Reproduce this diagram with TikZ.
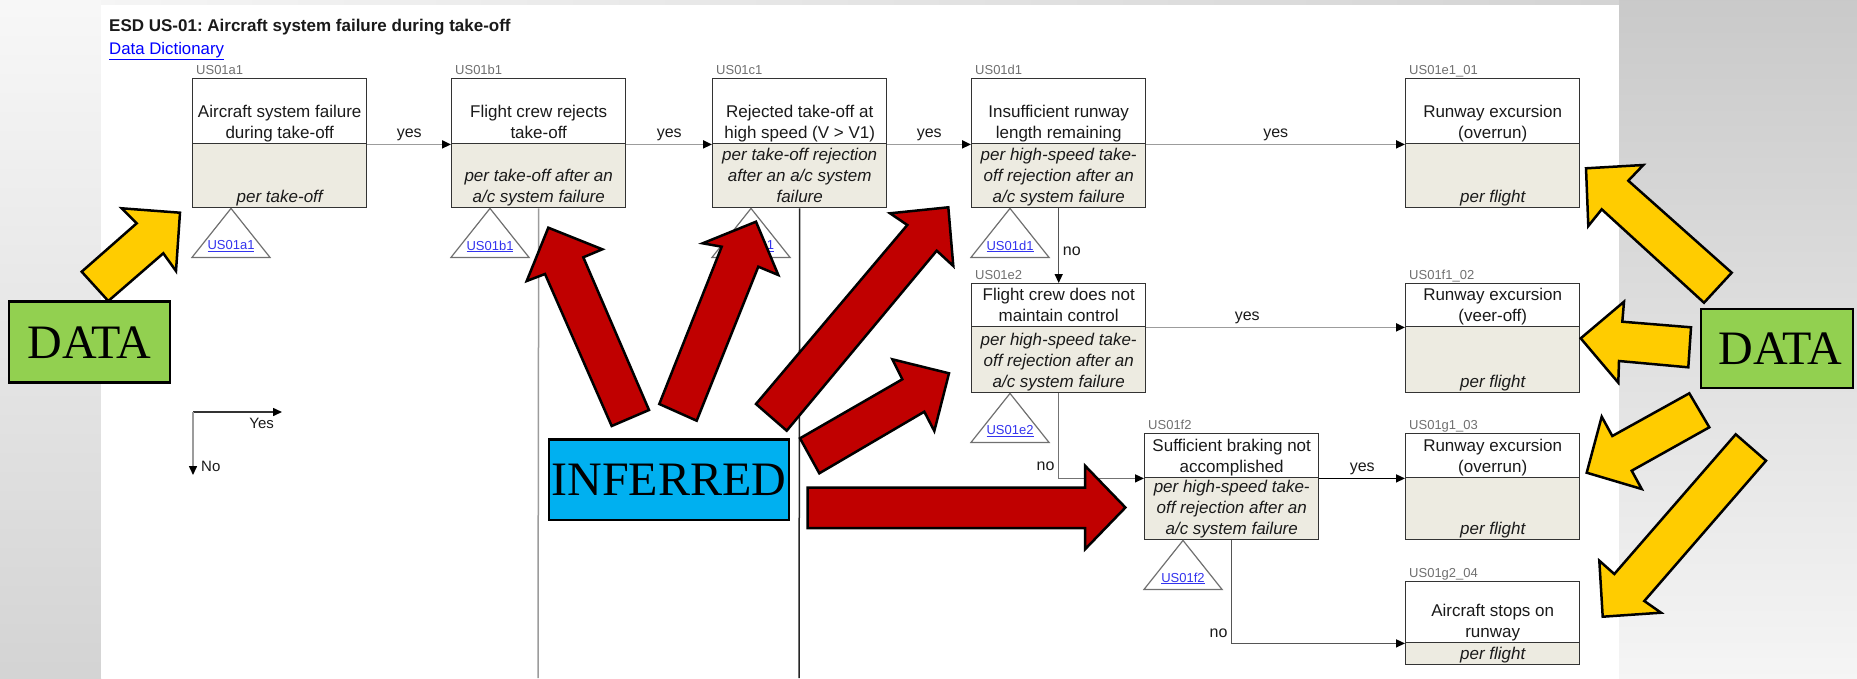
\documentclass[tikz,border=0pt]{standalone}
\usepackage{fontspec}
\setmainfont{Liberation Sans}
\newfontfamily\tnr{Liberation Serif}
\usetikzlibrary{arrows.meta,calc}
\definecolor{beige}{HTML}{EDEBE1}
\definecolor{boxline}{HTML}{333333}
\definecolor{txt}{HTML}{1A1A1A}
\definecolor{idgrey}{HTML}{707070}
\definecolor{trigrey}{HTML}{707070}
\definecolor{linkblue}{HTML}{3333EE}
\definecolor{conngrey}{HTML}{9C9C9C}
\definecolor{conndark}{HTML}{555555}
\definecolor{arrred}{HTML}{C00000}
\definecolor{arryel}{HTML}{FFCC00}
\definecolor{datagreen}{HTML}{92D050}
\definecolor{infcyan}{HTML}{00B0F0}
\frenchspacing
\newcommand\ESDbox[8]{%
  \node[topbox, minimum height={#4-#3}] (#1top) at (#2,#3) {};
  \node[botbox, minimum height={#5-#4}] (#1bot) at (#2,#4) {};
  \node[idlabel] (#1id) at ($(#1top.north west)+(4,-4)$) {#6};
  \node[uptext] (#1ut) at (#1top.south) {#7};
  \node[lowtext] (#1lt) at (#1bot.south) {#8};
}
\newcommand\ESDtri[2]{%
  \draw[tri] ($(#1bot.south west)+(39,0)$) -- ++(39,49) -- ++(-78,0) -- cycle;
  \node[trilabel] (#1tl) at ($(#1bot.south west)+(39,38)$) {\underline{#2}};
}
\begin{document}
\begin{tikzpicture}[x=1pt,y=-1pt,
  boxpart/.style={draw=boxline, line width=1.4pt, minimum width=174pt, inner sep=0pt, anchor=north west},
  topbox/.style={boxpart, fill=white},
  botbox/.style={boxpart, fill=beige},
  uptext/.style={font=\fontsize{17}{21}\selectfont, align=center, text depth=5pt, inner xsep=0pt, inner ysep=1pt, anchor=south, text=txt},
  lowtext/.style={uptext, font=\fontsize{17}{21}\selectfont\itshape},
  idlabel/.style={font=\fontsize{13}{15}\selectfont, text=idgrey, anchor=base west, inner sep=0pt},
  tri/.style={draw=trigrey, line width=1.2pt, fill=white, line join=miter},
  trilabel/.style={font=\fontsize{13}{15}\selectfont, text=linkblue, inner sep=0pt},
  tipk/.tip={Triangle[length=9pt,width=8pt,color=black]},
  conn/.style={line width=1.8pt, draw=conngrey, -tipk},
  conndk/.style={line width=1.4pt, draw=conndark, -tipk},
  connbk/.style={line width=1.4pt, draw=black, -tipk},
  yeslab/.style={font=\fontsize{16}{18}\selectfont, text=txt, anchor=base, inner sep=0pt, yshift=6.5pt},
  nolab/.style={font=\fontsize{16}{18}\selectfont, text=txt, inner ysep=0pt, inner xsep=3.5pt},
  vline/.style={line width=1.5pt},
  bigbox/.style={draw=black, line width=2.5pt, inner sep=0pt, font=\tnr\fontsize{48}{50}\selectfont},
  redarrow/.style={draw=black, line width=2.5pt, fill=arrred, line join=miter},
  yelarrow/.style={draw=black, line width=2.5pt, fill=arryel, line join=miter}
]
\useasboundingbox (0,0) rectangle (1857,678);
% background
\shade[top color=black!3, bottom color=black!17] (0,0) rectangle (101,678);
\shade[top color=black!21, bottom color=black!4] (1619,0) rectangle (1857,678);
\shade[left color=black!4, right color=black!17] (101,0) rectangle (1619,5);
\fill[white] (101,5) rectangle (1619,678);

% title
\node[anchor=base west, inner sep=0pt, font=\bfseries\fontsize{17}{19}\selectfont, text=txt] (title) at (109,31) {ESD US-01: Aircraft system failure during take-off};
\node[anchor=base west, inner sep=0pt, font=\fontsize{16.8}{18}\selectfont, text=blue] (dd) at (109,54) {\underline{Data Dictionary}};

% boxes
\ESDbox{a1}{192}{78}{143}{207}{US01a1}{Aircraft system failure\\during take-off}{per take-off}
\ESDbox{b1}{451}{78}{143}{207}{US01b1}{Flight crew rejects\\take-off}{per take-off after an\\a/c system failure}
\ESDbox{c1}{712}{78}{143}{207}{US01c1}{Rejected take-off at\\high speed (V > V1)}{per take-off rejection\\after an a/c system\\failure}
\ESDbox{d1}{971}{78}{143}{207}{US01d1}{Insufficient runway\\length remaining}{per high-speed take-\\off rejection after an\\a/c system failure}
\ESDbox{eA}{1405}{78}{143}{207}{US01e1\_01}{Runway excursion\\(overrun)}{per flight}
\ESDbox{e2}{971}{283}{326}{392}{US01e2}{Flight crew does not\\maintain control}{per high-speed take-\\off rejection after an\\a/c system failure}
\ESDbox{fB}{1405}{283}{326}{392}{US01f1\_02}{Runway excursion\\(veer-off)}{per flight}
\ESDbox{f2}{1144}{433}{477}{539}{US01f2}{Sufficient braking not\\accomplished}{per high-speed take-\\off rejection after an\\a/c system failure}
\ESDbox{gC}{1405}{433}{477}{539}{US01g1\_03}{Runway excursion\\(overrun)}{per flight}
\ESDbox{gD}{1405}{581}{642}{664}{US01g2\_04}{Aircraft stops on\\runway}{per flight}

% triangles
\ESDtri{a1}{US01a1}
\ESDtri{b1}{US01b1}
\ESDtri{c1}{US01c1}
\ESDtri{d1}{US01d1}
\ESDtri{e2}{US01e2}
\ESDtri{f2}{US01f2}

% vertical lines
\coordinate (b1end) at (538,678);
\coordinate (c1end) at (799,678);
\draw[vline, draw=conngrey] (b1bot.south) -- (b1end);
\draw[vline, draw=black!85] (c1bot.south) -- (c1end);

% connectors
\draw[conn] (a1top.south east) -- node[yeslab]{yes} (b1top.south west);
\draw[conn] (b1top.south east) -- node[yeslab]{yes} (c1top.south west);
\draw[conn] (c1top.south east) -- node[yeslab]{yes} (d1top.south west);
\draw[conn] (d1top.south east) -- node[yeslab]{yes} (eAtop.south west);
\draw[conndk] (d1bot.south) -- node[nolab, anchor=west, pos=.58]{no} (e2top.north);
\draw[conn] (e2top.south east) -- node[yeslab, pos=.39]{yes} (fBtop.south west);
\draw[conndk, draw=black!55] (e2bot.south) |- node[nolab, anchor=east, pos=.43]{no} (f2top.south west);
\draw[connbk] (f2top.south east) -- node[yeslab]{yes} (gCtop.south west);
\draw[conndk] (f2bot.south) |- node[nolab, anchor=east, pos=.45]{no} (gDtop.south west);

% legend
\coordinate (lgO) at (193,412);
\coordinate (lgY) at (282,412);
\coordinate (lgN) at (193,475);
\draw[line width=1.5pt, draw=black!80, -tipk] (lgO) -- (lgY);
\draw[line width=1.5pt, draw=conngrey, -tipk] (lgO) -- (lgN);
\node[font=\fontsize{15}{17}\selectfont, text=txt, inner sep=0pt] (lgYes) at (261.7,423.3) {Yes};
\node[font=\fontsize{15}{17}\selectfont, text=txt, inner sep=0pt, anchor=west] (lgNo) at (201,466) {No};

% DATA / INFERRED boxes
\node[bigbox, fill=datagreen, minimum width=161pt, minimum height=81pt] (dataL) at (89.5,342.2) {DATA};
\node[bigbox, fill=datagreen, minimum width=152pt, minimum height=79pt] (dataR) at (1777,348.7) {\hspace*{7pt}DATA};
\node[bigbox, fill=infcyan, minimum width=240pt, minimum height=80.7pt] (inf) at (669,479.7) {INFERRED};

% red arrows
\draw[redarrow] (611.7,426) -- (545,274) -- (526.7,281) -- (548.3,227.7) -- (602.3,249.3) -- (583.3,257.3) -- (649,410) -- cycle;
\draw[redarrow] (659.3,404) -- (721.7,246.7) -- (702.7,243.3) -- (756,221.7) -- (778.3,275) -- (758.3,266.7) -- (696.7,420.7) -- cycle;
\draw[redarrow] (756,404) -- (907.3,225) -- (890,213.3) -- (948.3,207.3) -- (953.3,266) -- (936.7,250.7) -- (786.7,430.7) -- cycle;
\draw[redarrow] (800,438.3) -- (902.3,379.3) -- (892.3,359.3) -- (949,373.3) -- (934.3,431) -- (924.3,411.7) -- (819.3,473.3) -- cycle;
\draw[redarrow] (807.7,487.7) -- (1085,487.7) -- (1085,465.7) -- (1125.4,507.5) -- (1085,549.3) -- (1085,528) -- (807.7,528) -- cycle;

% yellow arrows
\draw[yelarrow] (81.7,271.7) -- (136.7,223.3) -- (121.7,208.3) -- (180,212.7) -- (176,271) -- (163.3,253.3) -- (108.3,301) -- cycle;
\draw[yelarrow] (1586,168.3) -- (1643.3,165) -- (1628.3,180.7) -- (1731.7,272.7) -- (1704,302.7) -- (1601.7,209.3) -- (1588.3,226) -- cycle;
\draw[yelarrow] (1580.7,338.3) -- (1624,301.7) -- (1622.3,321.7) -- (1691,327.3) -- (1688.3,367.3) -- (1619,361) -- (1618.3,382.7) -- cycle;
\draw[yelarrow] (1586.7,472.7) -- (1601.7,416.7) -- (1612.3,436) -- (1689.3,393.3) -- (1709.3,427.3) -- (1631.7,470.7) -- (1641.7,489) -- cycle;
\draw[yelarrow] (1602.7,616.7) -- (1599.3,560.7) -- (1614.3,574) -- (1735.7,434.3) -- (1766,460.7) -- (1644.3,601) -- (1661,612.7) -- cycle;
\end{tikzpicture}
\end{document}
